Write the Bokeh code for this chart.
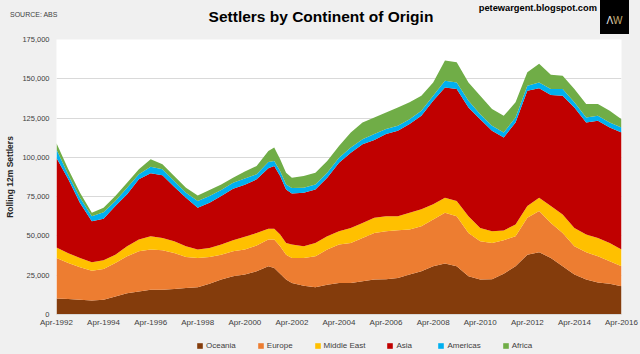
import pandas as pd
from bokeh.plotting import figure
from bokeh.layouts import column
from bokeh.models import (ColumnDataSource, FixedTicker, NumeralTickFormatter,
                          DatetimeTickFormatter, Legend, LegendItem, Range1d, Div)
from bokeh.embed import file_html
from bokeh.resources import INLINE

# ---- data (thousands of settlers, rolling 12 months) ----
dates = ["Apr-1992", "Oct-1992", "Apr-1993", "Oct-1993", "Apr-1994", "Oct-1994",
         "Apr-1995", "Oct-1995", "Apr-1996", "Oct-1996", "Apr-1997", "Oct-1997",
         "Apr-1998", "Oct-1998", "Apr-1999", "Oct-1999", "Apr-2000", "Oct-2000",
         "Apr-2001", "Jul-2001", "Oct-2001", "Jan-2002", "Apr-2002", "Oct-2002",
         "Apr-2003", "Oct-2003", "Apr-2004", "Oct-2004", "Apr-2005", "Oct-2005",
         "Apr-2006", "Oct-2006", "Apr-2007", "Oct-2007", "Apr-2008", "Oct-2008",
         "Apr-2009", "Oct-2009", "Apr-2010", "Oct-2010", "Apr-2011", "Oct-2011",
         "Apr-2012", "Oct-2012", "Apr-2013", "Oct-2013", "Apr-2014", "Oct-2014",
         "Apr-2015", "Oct-2015", "Apr-2016"]
oceania = [10.2, 9.8, 9.4, 8.9, 9.4, 11.5, 13.6, 14.7, 15.8, 15.8, 16.2, 16.8,
           17.4, 19.6, 22.2, 24.3, 25.4, 27.5, 30.7, 29.6, 26.0, 22.2, 20.0, 18.3,
           17.4, 19.0, 20.0, 20.0, 21.1, 22.2, 22.5, 23.2, 25.4, 27.5, 30.7, 32.4,
           30.7, 24.3, 22.2, 22.5, 26.0, 30.7, 38.1, 39.6, 36.0, 30.7, 25.4, 22.2,
           20.4, 19.6, 17.9]
europe = [25.8, 23.0, 20.6, 19.0, 19.6, 21.3, 23.4, 25.5, 25.5, 25.1, 23.0, 19.8,
          18.6, 17.0, 15.9, 15.9, 15.9, 16.4, 17.0, 18.1, 17.4, 15.9, 16.0, 17.7,
          19.6, 22.3, 24.5, 25.5, 27.6, 29.7, 30.5, 30.4, 28.7, 28.7, 29.8, 32.3,
          31.9, 27.6, 24.4, 23.0, 21.3, 19.1, 23.4, 26.2, 22.3, 21.2, 18.0, 17.4,
          16.6, 14.3, 12.8]
middle_east = [6.6, 6.2, 6.0, 5.3, 5.5, 5.3, 6.4, 7.5, 8.5, 7.8, 7.4, 6.8,
               5.3, 5.7, 6.4, 7.1, 8.1, 8.0, 6.8, 6.8, 7.5, 7.4, 8.5, 7.4,
               8.5, 8.5, 8.5, 9.6, 9.6, 9.6, 9.6, 9.0, 10.6, 10.7, 9.6, 9.6,
               9.6, 10.7, 8.5, 7.5, 6.2, 7.5, 7.5, 8.5, 10.7, 11.8, 11.7, 11.3,
               11.7, 11.6, 10.6]
asia = [57.0, 47.0, 35.0, 26.2, 26.4, 30.9, 33.1, 38.3, 40.1, 39.9, 34.7, 30.9,
        26.6, 28.8, 30.9, 32.7, 33.1, 34.1, 38.5, 40.0, 37.2, 34.1, 32.5, 34.1,
        34.1, 37.3, 43.6, 47.9, 50.1, 49.6, 52.2, 54.3, 56.5, 59.6, 65.9, 70.2,
        71.3, 69.2, 69.2, 63.9, 59.1, 64.9, 73.4, 69.6, 70.7, 75.5, 76.7, 71.3,
        74.6, 73.5, 74.5]
americas = [5.4, 3.0, 3.3, 3.2, 4.2, 3.2, 4.2, 3.2, 4.1, 3.8, 3.7, 3.2,
            4.3, 4.3, 3.8, 3.9, 4.0, 3.2, 4.0, 3.2, 3.2, 3.2, 3.5, 3.2,
            3.2, 3.1, 3.2, 3.2, 3.2, 3.7, 3.2, 3.2, 3.1, 3.2, 3.2, 4.3,
            4.2, 4.2, 3.2, 3.2, 3.2, 3.2, 3.2, 3.8, 3.8, 4.3, 3.2, 3.2,
            3.2, 3.2, 3.2]
africa = [4.0, 3.4, 3.2, 2.1, 2.8, 3.2, 3.2, 3.2, 4.8, 3.2, 3.1, 3.2,
          3.6, 3.8, 3.6, 3.2, 4.5, 5.3, 7.0, 8.5, 7.5, 7.4, 6.6, 7.4,
          7.4, 7.5, 7.5, 9.6, 10.6, 10.6, 10.6, 11.7, 10.7, 9.5, 8.5, 12.8,
          12.8, 11.7, 11.7, 10.6, 10.7, 9.6, 8.5, 11.8, 9.0, 8.5, 8.5, 8.5,
          7.4, 7.5, 5.3]

series_names = ["Oceania", "Europe", "Middle East", "Asia", "Americas", "Africa"]
series_keys = ["oceania", "europe", "middle_east", "asia", "americas", "africa"]
colors = ["#843c0c", "#ed7d31", "#ffc000", "#c00000", "#00b0f0", "#70ad47"]
x_tick_labels = ["Apr-1992", "Apr-1994", "Apr-1996", "Apr-1998", "Apr-2000",
                 "Apr-2002", "Apr-2004", "Apr-2006", "Apr-2008", "Apr-2010",
                 "Apr-2012", "Apr-2014", "Apr-2016"]
y_ticks = [0, 25000, 50000, 75000, 100000, 125000, 150000, 175000]

chart_title = "Settlers by Continent of Origin"
source_note = "SOURCE: ABS"
site = "petewargent.blogspot.com"

FONT = "Liberation Sans"
BG = "#f0f0f0"

x = pd.to_datetime(dates, format="%b-%Y")
data = {"date": x}
for key, vals in zip(series_keys, [oceania, europe, middle_east, asia, americas, africa]):
    data[key] = [v * 1000 for v in vals]
source = ColumnDataSource(data)

HEADER_H = 34
LEGEND_H = 24
MAIN_H = 354 - HEADER_H - LEGEND_H

p = figure(width=640, height=MAIN_H, x_axis_type="datetime", output_backend="svg",
           toolbar_location=None,
           x_range=Range1d(x[0], x[-1]), y_range=Range1d(0, 175000),
           min_border_left=56, min_border_right=19, min_border_top=5,
           min_border_bottom=16, margin=0)
p.background_fill_color = "white"
p.border_fill_color = BG
p.outline_line_color = None

renderers = p.varea_stack(stackers=series_keys, x="date", color=colors, source=source)

# axes
xt = pd.to_datetime(x_tick_labels, format="%b-%Y")
p.xaxis.ticker = FixedTicker(ticks=[int(t.value // 10**6) for t in xt])
fmt = "%b-%Y"
p.xaxis.formatter = DatetimeTickFormatter(years=fmt, months=fmt, days=fmt, hours=fmt,
                                          minutes=fmt, seconds=fmt, minsec=fmt,
                                          milliseconds=fmt, microseconds=fmt, hourmin=fmt)
p.yaxis.ticker = FixedTicker(ticks=y_ticks)
p.yaxis.formatter = NumeralTickFormatter(format="0,0")
for ax in (p.xaxis[0], p.yaxis[0]):
    ax.major_tick_line_color = None
    ax.minor_tick_line_color = None
    ax.major_tick_out = 0
    ax.major_tick_in = 0
    ax.minor_tick_out = 0
    ax.minor_tick_in = 0
    ax.major_label_text_font = FONT
    ax.major_label_text_color = "#404040"
p.xaxis.axis_line_color = "#d9d9d9"
p.yaxis.axis_line_color = None
p.xaxis.major_label_text_font_size = "8px"
p.yaxis.major_label_text_font_size = "7.5px"
p.xaxis.major_label_standoff = 3
p.yaxis.major_label_standoff = 7
p.yaxis.axis_label = "Rolling 12m Settlers"
p.yaxis.axis_label_text_font = FONT
p.yaxis.axis_label_text_font_size = "8.5px"
p.yaxis.axis_label_text_font_style = "bold"
p.yaxis.axis_label_text_color = "#262626"
p.yaxis.axis_label_standoff = 4
p.xgrid.grid_line_color = None
p.ygrid.grid_line_color = "#d9d9d9"

# legend strip: same stacked series drawn outside its visible range, only the legend shows
pl = figure(width=640, height=LEGEND_H, x_axis_type="datetime", output_backend="svg",
            toolbar_location=None, x_axis_location=None, y_axis_location=None,
            x_range=Range1d(x[0], x[-1]), y_range=Range1d(-2, -1),
            min_border=0, margin=0)
pl.background_fill_color = BG
pl.border_fill_color = BG
pl.outline_line_color = None
pl.grid.visible = False
leg_renderers = pl.varea_stack(stackers=series_keys, x="date", color=colors, source=source)
legend = Legend(items=[LegendItem(label=n, renderers=[r]) for n, r in zip(series_names, leg_renderers)],
                orientation="horizontal", location=(140, 4),
                glyph_width=7, glyph_height=7, label_standoff=3, spacing=21,
                padding=0, margin=0, border_line_color=None, background_fill_alpha=0,
                label_text_font=FONT, label_text_font_size="8px",
                label_text_color="#404040", label_height=10)
pl.add_layout(legend, "center")

header_html = f"""
<div style="position:relative;width:640px;height:{HEADER_H}px;background:{BG};
            font-family:'Liberation Sans',Arial,sans-serif;overflow:hidden;">
  <span style="position:absolute;left:10px;top:11px;font-size:7px;line-height:8px;
               color:#404040;white-space:nowrap;">{source_note}</span>
  <span style="position:absolute;left:171px;width:300px;top:8px;text-align:center;
               font-size:15.5px;line-height:18px;font-weight:bold;color:#000;
               white-space:nowrap;">{chart_title}</span>
  <span style="position:absolute;right:43px;top:3px;font-size:9.3px;line-height:11px;
               font-weight:bold;color:#000;white-space:nowrap;">{site}</span>
  <div style="position:absolute;left:600px;top:0px;width:29px;height:{HEADER_H}px;
              background:#000;text-align:center;font-size:10px;line-height:10px;">
    <span style="position:relative;top:16px;"><span style="color:#e6e6e6;">&#923;</span><span style="color:#c8ae72;">W</span></span>
  </div>
</div>
"""
header = Div(text=header_html, width=640, height=HEADER_H, margin=0,
             styles={"background-color": BG})

layout = column(header, p, pl, spacing=0, margin=0)
layout.styles = {"background-color": BG}

open("out.html", "w").write(file_html(layout, INLINE))
